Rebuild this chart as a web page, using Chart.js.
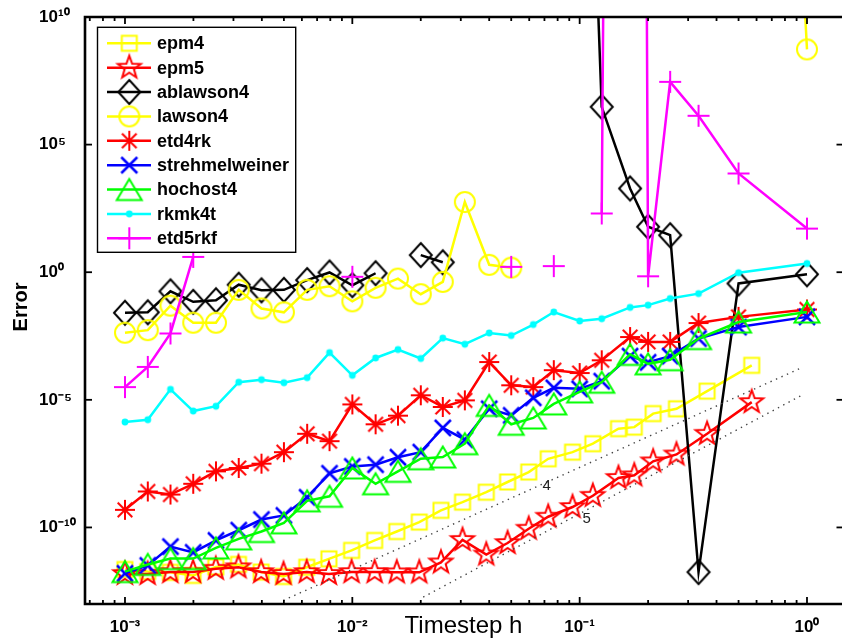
<!DOCTYPE html>
<html><head><meta charset="utf-8">
<script src="https://cdn.jsdelivr.net/npm/chart.js@4.4.1/dist/chart.umd.min.js"></script>
<style>html,body{margin:0;padding:0;overflow:hidden;background:#fff;width:842px;height:644px;}canvas{display:block;}</style>
</head><body>
<canvas id="c" width="842" height="644"></canvas>
<script>
// ---- data (time step h, error) ----
const hStd = [0.001, 0.0012594, 0.0015848, 0.001996, 0.0025126, 0.0031646, 0.0039841, 0.005, 0.0063291, 0.0079365, 0.01, 0.012658, 0.015873, 0.02, 0.025, 0.03125, 0.04, 0.05, 0.0625, 0.076923, 0.1, 0.125, 0.16667, 0.2, 0.25, 0.33333, 0.5, 1];
const hEpm = [0.00099925, 0.0012583, 0.0015829, 0.001993, 0.0025078, 0.0031571, 0.0039722, 0.0049813, 0.0062992, 0.0078895, 0.0099256, 0.012539, 0.015686, 0.019704, 0.02454, 0.030534, 0.038835, 0.048193, 0.059701, 0.072727, 0.093023, 0.11429, 0.14815, 0.17391, 0.21053, 0.26667, 0.36364, 0.57143];

const epm4 = [2.24e-12, 1.86e-12, 1.74e-12, 1.32e-12, 2.82e-12, 3.55e-12, 1.78e-12, 1.2e-12, 2.75e-12, 5.89e-12, 1.26e-11, 3.09e-11, 6.92e-11, 1.62e-10, 4.68e-10, 9.77e-10, 2.4e-9, 6.03e-9, 1.48e-8, 4.9e-8, 8.91e-8, 1.91e-7, 7.41e-7, 8.51e-7, 2.88e-6, 4.47e-6, 2.19e-5, 2.24e-4];
const epm5 = [1.51e-12, 1.51e-12, 1.78e-12, 1.78e-12, 2.4e-12, 2.75e-12, 1.78e-12, 1.51e-12, 1.78e-12, 1.51e-12, 1.78e-12, 1.78e-12, 1.74e-12, 1.74e-12, 4.27e-12, 3.24e-11, 8.71e-12, 2.45e-11, 8.91e-11, 2.63e-10, 6.31e-10, 1.74e-9, 8.71e-9, 1.1e-8, 3.89e-8, 7.24e-8, 4.68e-7, 8.13e-6];
const ablawson4 = [2.57e-2, 2.69e-2, 0.178, 6.92e-2, 7.94e-2, 0.324, 0.195, 0.204, 0.49, 0.977, 0.309, 0.912, null, 4.68, 2.45, null, null, null, null, null, 1e30, 3.02e6, 1.91e3, 60.3, 28.2, 1.78e-12, 0.363, 0.832];
const lawson4 = [4.27e-3, 5.37e-3, 4.9e-2, 1.05e-2, 1.05e-2, 0.204, 3.8e-2, 2.69e-2, 0.204, 0.282, 7.24e-2, 0.245, 0.562, 0.138, 0.417, 562, 1.95, 1.51, null, null, null, null, null, null, null, null, 1e60, 5.37e8];
const etd4rk = [4.9e-10, 2.57e-9, 1.95e-9, 5.13e-9, 1.58e-8, 2.14e-8, 3.16e-8, 8.91e-8, 4.68e-7, 2.4e-7, 6.61e-6, 1.1e-6, 2.4e-6, 1.51e-5, 5.25e-6, 9.55e-6, 3.02e-4, 3.72e-5, 3.16e-5, 1.45e-4, 1.12e-4, 3.55e-4, 2.88e-3, 1.86e-3, 1.86e-3, 1.02e-2, 1.78e-2, 3.47e-2];
const strehmelweiner = [1.58e-12, 3.24e-12, 1.78e-11, 1.05e-11, 3.09e-11, 7.76e-11, 2.04e-10, 2.95e-10, 1.51e-9, 1.32e-8, 2.45e-8, 2.88e-8, 5.62e-8, 8.91e-8, 7.94e-7, 2.75e-7, 4.47e-6, 2.45e-6, 1.2e-5, 2.95e-5, 2.69e-5, 5.37e-5, 5.13e-4, 2.95e-4, 5.13e-4, 2.51e-3, 7.08e-3, 1.78e-2];
const hochost4 = [1.86e-12, 3.55e-12, 6.03e-12, 6.03e-12, 1.58e-11, 3.55e-11, 6.92e-11, 1.51e-10, 1.1e-9, 1.66e-9, 2.14e-8, 5.13e-9, 1.58e-8, 4.9e-8, 5.75e-8, 1.91e-7, 6.03e-6, 1.1e-6, 1.95e-6, 6.92e-6, 2.04e-5, 4.9e-5, 6.03e-4, 2.57e-4, 3.72e-4, 2.51e-3, 1.12e-2, 2.75e-2];
const rkmk4t = [1.35e-6, 1.66e-6, 2.57e-5, 3.63e-6, 5.62e-6, 4.9e-5, 6.17e-5, 4.68e-5, 7.41e-5, 7.08e-4, 9.12e-5, 4.37e-4, 9.33e-4, 4.17e-4, 2.63e-3, 1.51e-3, 4.17e-3, 3.31e-3, 8.91e-3, 2.75e-2, 1.23e-2, 1.51e-2, 4.17e-2, 5.13e-2, 9.33e-2, 0.145, 0.955, 2.19];
const etd5rkf = [3.16e-5, 1.95e-4, 3.98e-3, 3.98, null, null, null, null, null, null, 0.661, null, null, null, null, null, null, 1.62, null, 1.74, null, 200, 1e150, 0.692, 2.88e7, 1.35e6, 7.41e3, 51.3];

// order reference lines
const ref4H = [0.00497, 0.963];
const ref4Err = [1.38e-13, 1.93e-4];
const ref5H = [0.0205, 0.948];
const ref5Err = [1.86e-13, 1.51e-5];
const refLabels = ['4', '5'];
const refLabelH = [0.0716, 0.1074];
const refLabelErr = [4.17e-9, 2.19e-10];

const xTicks = [1e-3, 1e-2, 1e-1, 1];
const yTicks = [1e-10, 1e-5, 1, 1e5, 1e10];
const xMin = 6.67e-4, xMax = 1.4255, yMin = 1e-13, yMax = 1e10;

const seriesNames = ['epm4','epm5','ablawson4','lawson4','etd4rk','strehmelweiner','hochost4','rkmk4t','etd5rkf'];
const seriesColors = ['#ffff00','#ff0000','#000000','#ffff00','#ff0000','#0000ff','#00ff00','#00ffff','#ff00ff'];
const seriesMarkers = ['square','pentagram','diamond','circle','asterisk','x','triangle','dot','plus'];
const seriesH = [hEpm, hEpm, hStd, hStd, hStd, hStd, hStd, hStd, hStd];
const seriesVals = [epm4, epm5, ablawson4, lawson4, etd4rk, strehmelweiner, hochost4, rkmk4t, etd5rkf];

const FONT = '"Liberation Sans", Arial, Helvetica, sans-serif';

function makeMarker(kind, color) {
  const S = 32, c = document.createElement('canvas');
  c.width = S; c.height = S;
  const g = c.getContext('2d');
  g.translate(S / 2, S / 2);
  g.strokeStyle = color; g.fillStyle = color; g.lineWidth = 2;
  g.beginPath();
  if (kind === 'square') { g.rect(-7.5, -7.5, 15, 15); g.stroke(); }
  else if (kind === 'pentagram') {
    for (let i = 0; i < 10; i++) {
      const r = i % 2 ? 4.9 : 12;
      const a = -Math.PI / 2 + i * Math.PI / 5;
      g.lineTo(r * Math.cos(a), r * Math.sin(a));
    }
    g.closePath(); g.stroke();
  }
  else if (kind === 'diamond') { g.moveTo(0, -12); g.lineTo(11, 0); g.lineTo(0, 12); g.lineTo(-11, 0); g.closePath(); g.stroke(); }
  else if (kind === 'circle') { g.arc(0, 0, 10, 0, 2 * Math.PI); g.stroke(); }
  else if (kind === 'asterisk') {
    const a = 10, d = 7.3;
    g.moveTo(-a, 0); g.lineTo(a, 0); g.moveTo(0, -a); g.lineTo(0, a);
    g.moveTo(-d, -d); g.lineTo(d, d); g.moveTo(d, -d); g.lineTo(-d, d);
    g.stroke();
  }
  else if (kind === 'x') { g.lineWidth = 2.5; g.moveTo(-8, -8); g.lineTo(8, 8); g.moveTo(8, -8); g.lineTo(-8, 8); g.stroke(); }
  else if (kind === 'triangle') { g.moveTo(0, -10.5); g.lineTo(12.5, 10.5); g.lineTo(-12.5, 10.5); g.closePath(); g.stroke(); }
  else if (kind === 'dot') { g.arc(0, 0, 3.4, 0, 2 * Math.PI); g.fill(); }
  else if (kind === 'plus') { g.moveTo(-11, 0); g.lineTo(11, 0); g.moveTo(0, -11); g.lineTo(0, 11); g.stroke(); }
  return c;
}
const markerImgs = seriesMarkers.map((m, i) => makeMarker(m, seriesColors[i]));

const datasets = seriesNames.map((name, i) => ({
  label: name,
  data: seriesH[i].map((h, j) => ({ x: h, y: seriesVals[i][j] })),
  borderColor: seriesColors[i],
  backgroundColor: seriesColors[i],
  borderWidth: 2.5,
  pointStyle: markerImgs[i],
  pointRadius: 10,
  pointHoverRadius: 10,
  spanGaps: false,
  fill: false,
  tension: 0,
  order: 9 - i
}));
datasets.push({
  label: 'order 4', data: ref4H.map((h, j) => ({ x: h, y: ref4Err[j] })),
  borderColor: '#444', borderWidth: 1.4, borderDash: [1.4, 4.6], pointRadius: 0, fill: false, order: 0
});
datasets.push({
  label: 'order 5', data: ref5H.map((h, j) => ({ x: h, y: ref5Err[j] })),
  borderColor: '#444', borderWidth: 1.4, borderDash: [1.4, 4.6], pointRadius: 0, fill: false, order: 0
});

const SUP = { '-': '\u207B', '0': '\u2070', '1': '\u00B9', '2': '\u00B2', '3': '\u00B3', '4': '\u2074', '5': '\u2075', '6': '\u2076', '7': '\u2077', '8': '\u2078', '9': '\u2079' };
function powLabel(v) {
  const e = String(Math.round(Math.log10(v)));
  return '10' + e.split('').map(ch => SUP[ch]).join('');
}

// measure widest y label so labels can be left-aligned at x=39
const mctx = document.createElement('canvas').getContext('2d');
mctx.font = 'bold 17px ' + FONT;
const widestY = Math.max(...yTicks.map(v => mctx.measureText(powLabel(v)).width));
const Y_AXIS_W = 46;
const yPad = Math.max(0, Y_AXIS_W - widestY);

const framePlugin = {
  id: 'frame',
  afterDatasetsDraw(chart) {
    const { ctx, chartArea: a, scales: { x, y } } = chart;
    const R = a.right + 1.5;
    ctx.save();
    ctx.strokeStyle = '#000';
    ctx.lineWidth = 1.8;
    const seg = (x1, y1, x2, y2) => { ctx.beginPath(); ctx.moveTo(x1, y1); ctx.lineTo(x2, y2); ctx.stroke(); };
    xTicks.forEach(v => { const p = x.getPixelForValue(v); seg(p, a.bottom, p, a.bottom - 7); seg(p, a.top, p, a.top + 7); });
    for (let e = -4; e <= 0; e++) {
      for (let m = 2; m <= 9; m++) {
        const v = m * Math.pow(10, e);
        if (v <= xMin || v >= xMax) continue;
        const p = x.getPixelForValue(v);
        seg(p, a.bottom, p, a.bottom - 4); seg(p, a.top, p, a.top + 4);
      }
    }
    yTicks.forEach(v => { const p = y.getPixelForValue(v); seg(a.left, p, a.left + 7, p); seg(R, p, R - 7, p); });
    ctx.lineWidth = 2.6;
    ctx.beginPath();
    ctx.moveTo(R + 2, a.top); ctx.lineTo(a.left, a.top); ctx.lineTo(a.left, a.bottom); ctx.lineTo(R + 2, a.bottom);
    ctx.stroke();
    // order labels
    ctx.fillStyle = '#222';
    ctx.font = '15px ' + FONT;
    ctx.textAlign = 'center'; ctx.textBaseline = 'middle';
    refLabels.forEach((t, i) => ctx.fillText(t, x.getPixelForValue(refLabelH[i]), y.getPixelForValue(refLabelErr[i])));
    ctx.restore();
  },
  afterDraw(chart) {
    const { ctx } = chart;
    ctx.save();
    // y axis title
    ctx.fillStyle = '#000';
    ctx.font = 'bold 20px ' + FONT;
    ctx.translate(21, 307); ctx.rotate(-Math.PI / 2);
    ctx.textAlign = 'center'; ctx.textBaseline = 'middle';
    ctx.fillText('Error', 0, 0);
    ctx.restore();
    // legend
    ctx.save();
    const bx = 97.5, by = 27.3, bw = 198.2, bh = 225;
    ctx.fillStyle = '#fff'; ctx.fillRect(bx, by, bw, bh);
    ctx.strokeStyle = '#000'; ctx.lineWidth = 1.4; ctx.strokeRect(bx, by, bw, bh);
    ctx.font = 'bold 18px ' + FONT;
    ctx.textAlign = 'left'; ctx.textBaseline = 'middle';
    seriesNames.forEach((n, i) => {
      const yy = 43.3 + i * 24.37;
      ctx.strokeStyle = seriesColors[i]; ctx.lineWidth = 2.5;
      ctx.beginPath(); ctx.moveTo(107, yy); ctx.lineTo(151, yy); ctx.stroke();
      const img = markerImgs[i];
      ctx.drawImage(img, 129.3 - img.width / 2, yy - img.height / 2);
      ctx.fillStyle = '#000';
      ctx.fillText(n, 157, yy + 1);
    });
    ctx.restore();
  }
};

Chart.defaults.font.family = FONT;
Chart.defaults.color = '#000';

new Chart(document.getElementById('c'), {
  type: 'line',
  data: { datasets },
  options: {
    responsive: false,
    animation: false,
    devicePixelRatio: 1,
    layout: { autoPadding: false, padding: { left: 39, top: 17, right: 0, bottom: 0 } },
    plugins: { legend: { display: false }, tooltip: { enabled: false } },
    elements: { line: { borderJoinStyle: 'miter' } },
    scales: {
      x: {
        type: 'logarithmic', min: xMin, max: xMax,
        grid: { display: false }, border: { display: false },
        afterBuildTicks: s => { s.ticks = xTicks.map(v => ({ value: v })); },
        afterFit: s => { s.height = 40; s.paddingLeft = 0; s.paddingRight = 0; },
        ticks: { autoSkip: false, maxRotation: 0, padding: 5, font: { size: 17, weight: 'bold' }, callback: v => powLabel(v) },
        title: { display: true, text: 'Timestep h', font: { size: 24, weight: 'normal' }, padding: { top: 0, bottom: 3.6 } }
      },
      y: {
        type: 'logarithmic', min: yMin, max: yMax,
        grid: { display: false }, border: { display: false },
        afterBuildTicks: s => { s.ticks = yTicks.map(v => ({ value: v })); },
        afterFit: s => { s.width = Y_AXIS_W; s.paddingTop = 0; s.paddingBottom = 0; },
        ticks: { autoSkip: false, crossAlign: 'far', padding: yPad, font: { size: 17, weight: 'bold' }, callback: v => powLabel(v) }
      }
    }
  },
  plugins: [framePlugin]
});
</script>
</body></html>
